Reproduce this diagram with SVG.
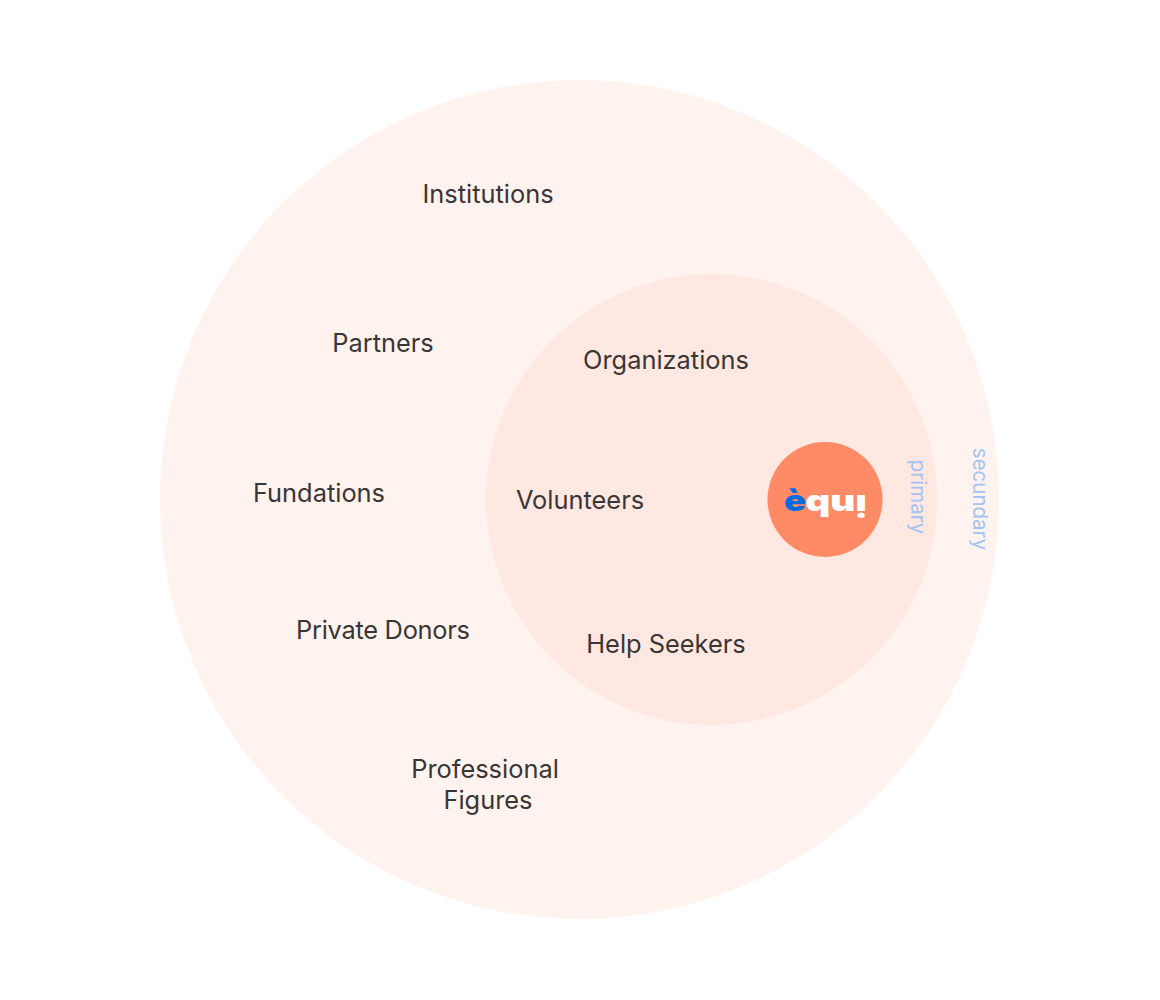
<svg xmlns="http://www.w3.org/2000/svg" width="1160" height="1000" viewBox="0 0 1160 1000">
<style>
.l{font-family:"Inter","Liberation Sans",sans-serif;font-size:25.4px;fill:#3a3635;text-anchor:middle}
.s{font-family:"Inter","Liberation Sans",sans-serif;font-size:20.5px;fill:#a3c3f0;text-anchor:middle}
.b{font-family:"Inter","Liberation Sans",sans-serif;font-size:28px;font-weight:900;text-anchor:middle}
</style>
<rect width="1160" height="1000" fill="#fff"/>
<g id="secondary-circle"><circle cx="579.500" cy="499.500" r="419.500" fill="#fff3ef"/></g>
<g id="primary-circle"><circle cx="711.500" cy="499.500" r="225.500" fill="#ffe8e2"/></g>
<g id="core-circle"><circle cx="825" cy="499.500" r="57.500" fill="#ff8a66"/></g>
<g id="institutions"><text class="l" x="488" y="203">Institutions</text></g>
<g id="partners"><text class="l" x="383" y="352">Partners</text></g>
<g id="fundations"><text class="l" x="319" y="502">Fundations</text></g>
<g id="private-donors"><text class="l" x="383" y="638.500" textLength="174">Private Donors</text></g>
<g id="professional-figures"><text class="l" x="485" y="778">Professional</text><text class="l" x="488" y="809">Figures</text></g>
<g id="organizations"><text class="l" x="666" y="369">Organizations</text></g>
<g id="volunteers"><text class="l" x="580" y="509">Volunteers</text></g>
<g id="help-seekers"><text class="l" x="666" y="652.500">Help Seekers</text></g>
<g id="primary-label"><text class="s" transform="translate(911,497) rotate(90)">primary</text></g>
<g id="secundary-label"><text class="s" transform="translate(973,499) rotate(90)">secundary</text></g>
<g id="logo"><text class="b" transform="translate(795,511) scale(1.3,1.05)" fill="#0a6ae0">è</text><text class="b" transform="translate(836,495) rotate(180) scale(1.38,1.05)" fill="#fff">inb</text></g>
</svg>
